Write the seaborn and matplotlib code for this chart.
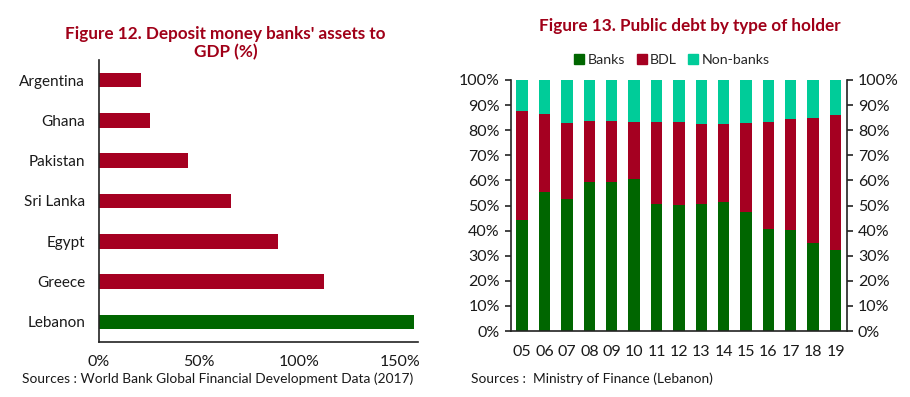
import numpy as np
import pandas as pd
import matplotlib
matplotlib.use("Agg")
import matplotlib.pyplot as plt
from matplotlib.patches import Patch
from matplotlib.ticker import PercentFormatter
import seaborn as sns

# --- data ---
countries = ["Argentina", "Ghana", "Pakistan", "Sri Lanka", "Egypt", "Greece", "Lebanon"]
assets_gdp = [20.8, 25.5, 44.5, 66.0, 89.0, 112.0, 156.8]

years = ["05", "06", "07", "08", "09", "10", "11", "12", "13", "14", "15", "16", "17", "18", "19"]
banks = [44.4, 55.5, 52.7, 59.2, 59.4, 60.4, 50.8, 50.2, 50.7, 51.3, 47.5, 40.7, 40.1, 35.0, 32.4]
bdl = [43.2, 31.1, 30.1, 24.3, 24.2, 22.7, 32.3, 33.2, 31.6, 31.0, 35.2, 42.7, 44.5, 50.0, 53.6]
non_banks = [100 - b - d for b, d in zip(banks, bdl)]

RED = "#A50021"
GREEN = "#006600"
TEAL = "#00CC99"
TITLE = "#A00018"
TXT = "#1a1a1a"

sns.set_style("white")
plt.rcParams["font.family"] = ["Lato", "DejaVu Sans"]

fig = plt.figure(figsize=(9.1, 3.97), dpi=100)

# --- Figure 12 ---
ax1 = fig.add_axes([0.1088, 0.1385, 0.3505, 0.7105])
df1 = pd.DataFrame({"Country": countries, "Assets": assets_gdp})
pal = {c: (GREEN if c == "Lebanon" else RED) for c in countries}
sns.barplot(data=df1, y="Country", x="Assets", hue="Country", palette=pal,
            legend=False, width=0.36, saturation=1, linewidth=0, ax=ax1)
ax1.set_xlim(0, 159)
ax1.set_ylim(len(countries) - 0.5, -0.5)
ax1.set_xticks([0, 50, 100, 150])
ax1.xaxis.set_major_formatter(PercentFormatter(decimals=0))
ax1.set_xlabel("")
ax1.set_ylabel("")
ax1.set_yticks(np.arange(len(countries)))
ax1.set_yticklabels(countries)
ax1.set_yticks(np.arange(len(countries) + 1) - 0.5, minor=True)
ax1.tick_params(axis="y", which="major", length=0, pad=10, labelsize=11, labelcolor=TXT)
ax1.tick_params(axis="y", which="minor", length=5, width=1.2, color="#222222", direction="out")
ax1.tick_params(axis="x", length=5, width=1.2, color="#222222", direction="out",
                labelsize=11.5, labelcolor=TXT, pad=4)
sns.despine(ax=ax1)
for s in ["left", "bottom"]:
    ax1.spines[s].set_color("#222222")
    ax1.spines[s].set_linewidth(1.2)
fig.text(0.248, 0.935, "Figure 12. Deposit money banks' assets to\nGDP (%)",
         ha="center", va="top", fontsize=12.3, fontweight="bold", color=TITLE,
         linespacing=1.15)
fig.text(0.024, 0.045, "Sources : World Bank Global Financial Development Data (2017)",
         ha="left", va="center", fontsize=9.9, color=TXT)

# --- Figure 13 ---
ax2 = fig.add_axes([0.5615, 0.166, 0.369, 0.6325])
df2 = pd.DataFrame({"Year": years, "Banks": banks, "BDL": bdl, "Non-banks": non_banks})
df2["Total"] = df2["Banks"] + df2["BDL"] + df2["Non-banks"]
df2["BanksBDL"] = df2["Banks"] + df2["BDL"]
sns.barplot(data=df2, x="Year", y="Total", color=TEAL, saturation=1, width=0.51, linewidth=0, ax=ax2)
sns.barplot(data=df2, x="Year", y="BanksBDL", color=RED, saturation=1, width=0.51, linewidth=0, ax=ax2)
sns.barplot(data=df2, x="Year", y="Banks", color=GREEN, saturation=1, width=0.51, linewidth=0, ax=ax2)
ax2.set_xlim(-0.5, len(years) - 0.5)
ax2.set_ylim(0, 100)
ax2.set_yticks(np.arange(0, 101, 10))
ax2.yaxis.set_major_formatter(PercentFormatter(decimals=0))
ax2.set_xlabel("")
ax2.set_ylabel("")
ax2.tick_params(axis="x", length=0, pad=10, labelsize=11.5, labelcolor=TXT)
ax2.tick_params(axis="y", length=4, width=1.2, color="#222222", direction="out",
                labelsize=11.5, labelcolor=TXT, left=True, right=True,
                labelleft=True, labelright=True, pad=4)
ax2.spines["top"].set_visible(False)
for s in ["left", "bottom", "right"]:
    ax2.spines[s].set_color("#222222")
    ax2.spines[s].set_linewidth(1.2)
handles = [Patch(color=GREEN, label="Banks"), Patch(color=RED, label="BDL"),
           Patch(color=TEAL, label="Non-banks")]
ax2.legend(handles=handles, loc="lower center", bbox_to_anchor=(0.48, 1.015), ncol=3,
           frameon=False, fontsize=10.2, handlelength=0.7, handleheight=0.7,
           handletextpad=0.25, columnspacing=0.8, borderaxespad=0.3)
fig.text(0.758, 0.935, "Figure 13. Public debt by type of holder",
         ha="center", va="center", fontsize=12.3, fontweight="bold", color=TITLE)
fig.text(0.518, 0.045, "Sources :  Ministry of Finance (Lebanon)",
         ha="left", va="center", fontsize=9.9, color=TXT)

fig.savefig("out.png", dpi=100)
